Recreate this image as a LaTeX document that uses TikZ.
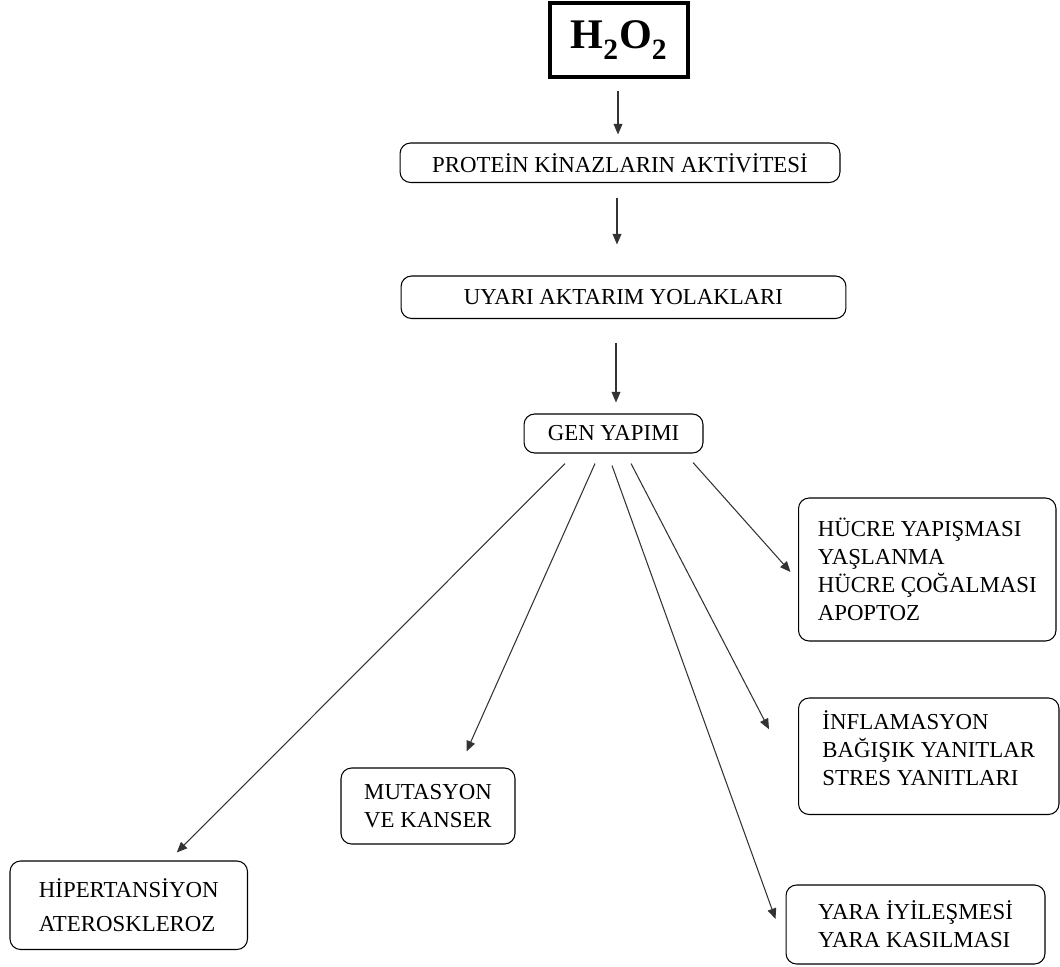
\documentclass[tikz,border=0pt]{standalone}
\usepackage{fontspec}
\setmainfont{Liberation Serif}
\usetikzlibrary{arrows.meta,calc}

\begin{document}
\begin{tikzpicture}[x=0.02cm, y=-0.02cm,
		box/.style={draw=black, line width=0.6pt, rounded corners=6pt, inner sep=0pt, align=left, font=\fontsize{13}{16}\selectfont},
		arr/.style={-{Triangle[length=6pt,width=5pt]}, line width=0.6pt, draw=black!80}]
			\useasboundingbox (0,0) rectangle (1060,966);
			\node[draw=black, line width=2.3pt, minimum width=2.76cm, minimum height=1.48cm, inner sep=0pt, font=\fontsize{24}{28}\selectfont\bfseries] (h2o2) at (619,40) {H\raisebox{-3pt}{\textsubscript{2}}O\raisebox{-3pt}{\textsubscript{2}}};
			\node[box, minimum width=8.8cm, minimum height=0.79cm] (prot) at (620,162.75) {PROTEİN KİNAZLARIN AKTİVİTESİ};
			\node[box, minimum width=8.9cm, minimum height=0.85cm] (uyari) at (623.5,297.25) {UYARI AKTARIM YOLAKLARI};
			\node[box, minimum width=3.58cm, minimum height=0.78cm] (gen) at (613.5,433.5) {GEN YAPIMI};
			
			\node[box, minimum width=5.15cm, minimum height=2.86cm] (hucre) at (927.25,569.5) {HÜCRE YAPIŞMASI\\YAŞLANMA\\HÜCRE ÇOĞALMASI\\APOPTOZ};
			\node[box, minimum width=5.21cm, minimum height=2.33cm] (infl) at (928.75,756.25) {İNFLAMASYON\\BAĞIŞIK YANITLAR\\STRES YANITLARI\\[-7pt]};
			\node[box, minimum width=5.18cm, minimum height=1.58cm] (yara) at (915.5,924.5) {YARA İYİLEŞMESİ\\YARA KASILMASI};
			\node[box, minimum width=3.48cm, minimum height=1.52cm] (mut) at (428,806) {MUTASYON\\VE KANSER};
			\node[box, minimum width=4.75cm, minimum height=1.77cm] (hip) at (128.75,905.25) {HİPERTANSİYON\\[3pt]ATEROSKLEROZ};
			
			\draw[arr] ($(h2o2.south)+(-1,12)$) -- ($(h2o2.south |- prot.north)+(-1,-8)$);
			\draw[arr] ($(prot.south -| h2o2.south)+(-2,14.5)$) -- ($(h2o2.south |- uyari.north)+(-2,-31)$);
			\draw[arr] ($(uyari.south -| h2o2.south)+(-3,23.5)$) -- ($(h2o2.south |- gen.north)+(-3,-11)$);
			
			\draw[arr] ($(gen.south)+(-48.5,10)$) -- ($(hip.north)+(48,-8)$);
			\draw[arr] ($(gen.south)+(-18.5,10)$) -- ($(mut.north)+(38.5,-16)$);
			\draw[arr] ($(gen.south)+(-1.5,12)$) -- ($(yara.west)+(-10,-5.5)$);
			\draw[arr] ($(gen.south)+(17.5,10)$) -- ($(infl.west)+(-29,-27)$);
			\draw[arr] ($(gen.south)+(79.5,9)$) -- ($(hucre.west)+(-7.5,2.5)$);
		
		\end{tikzpicture}
\end{document}
